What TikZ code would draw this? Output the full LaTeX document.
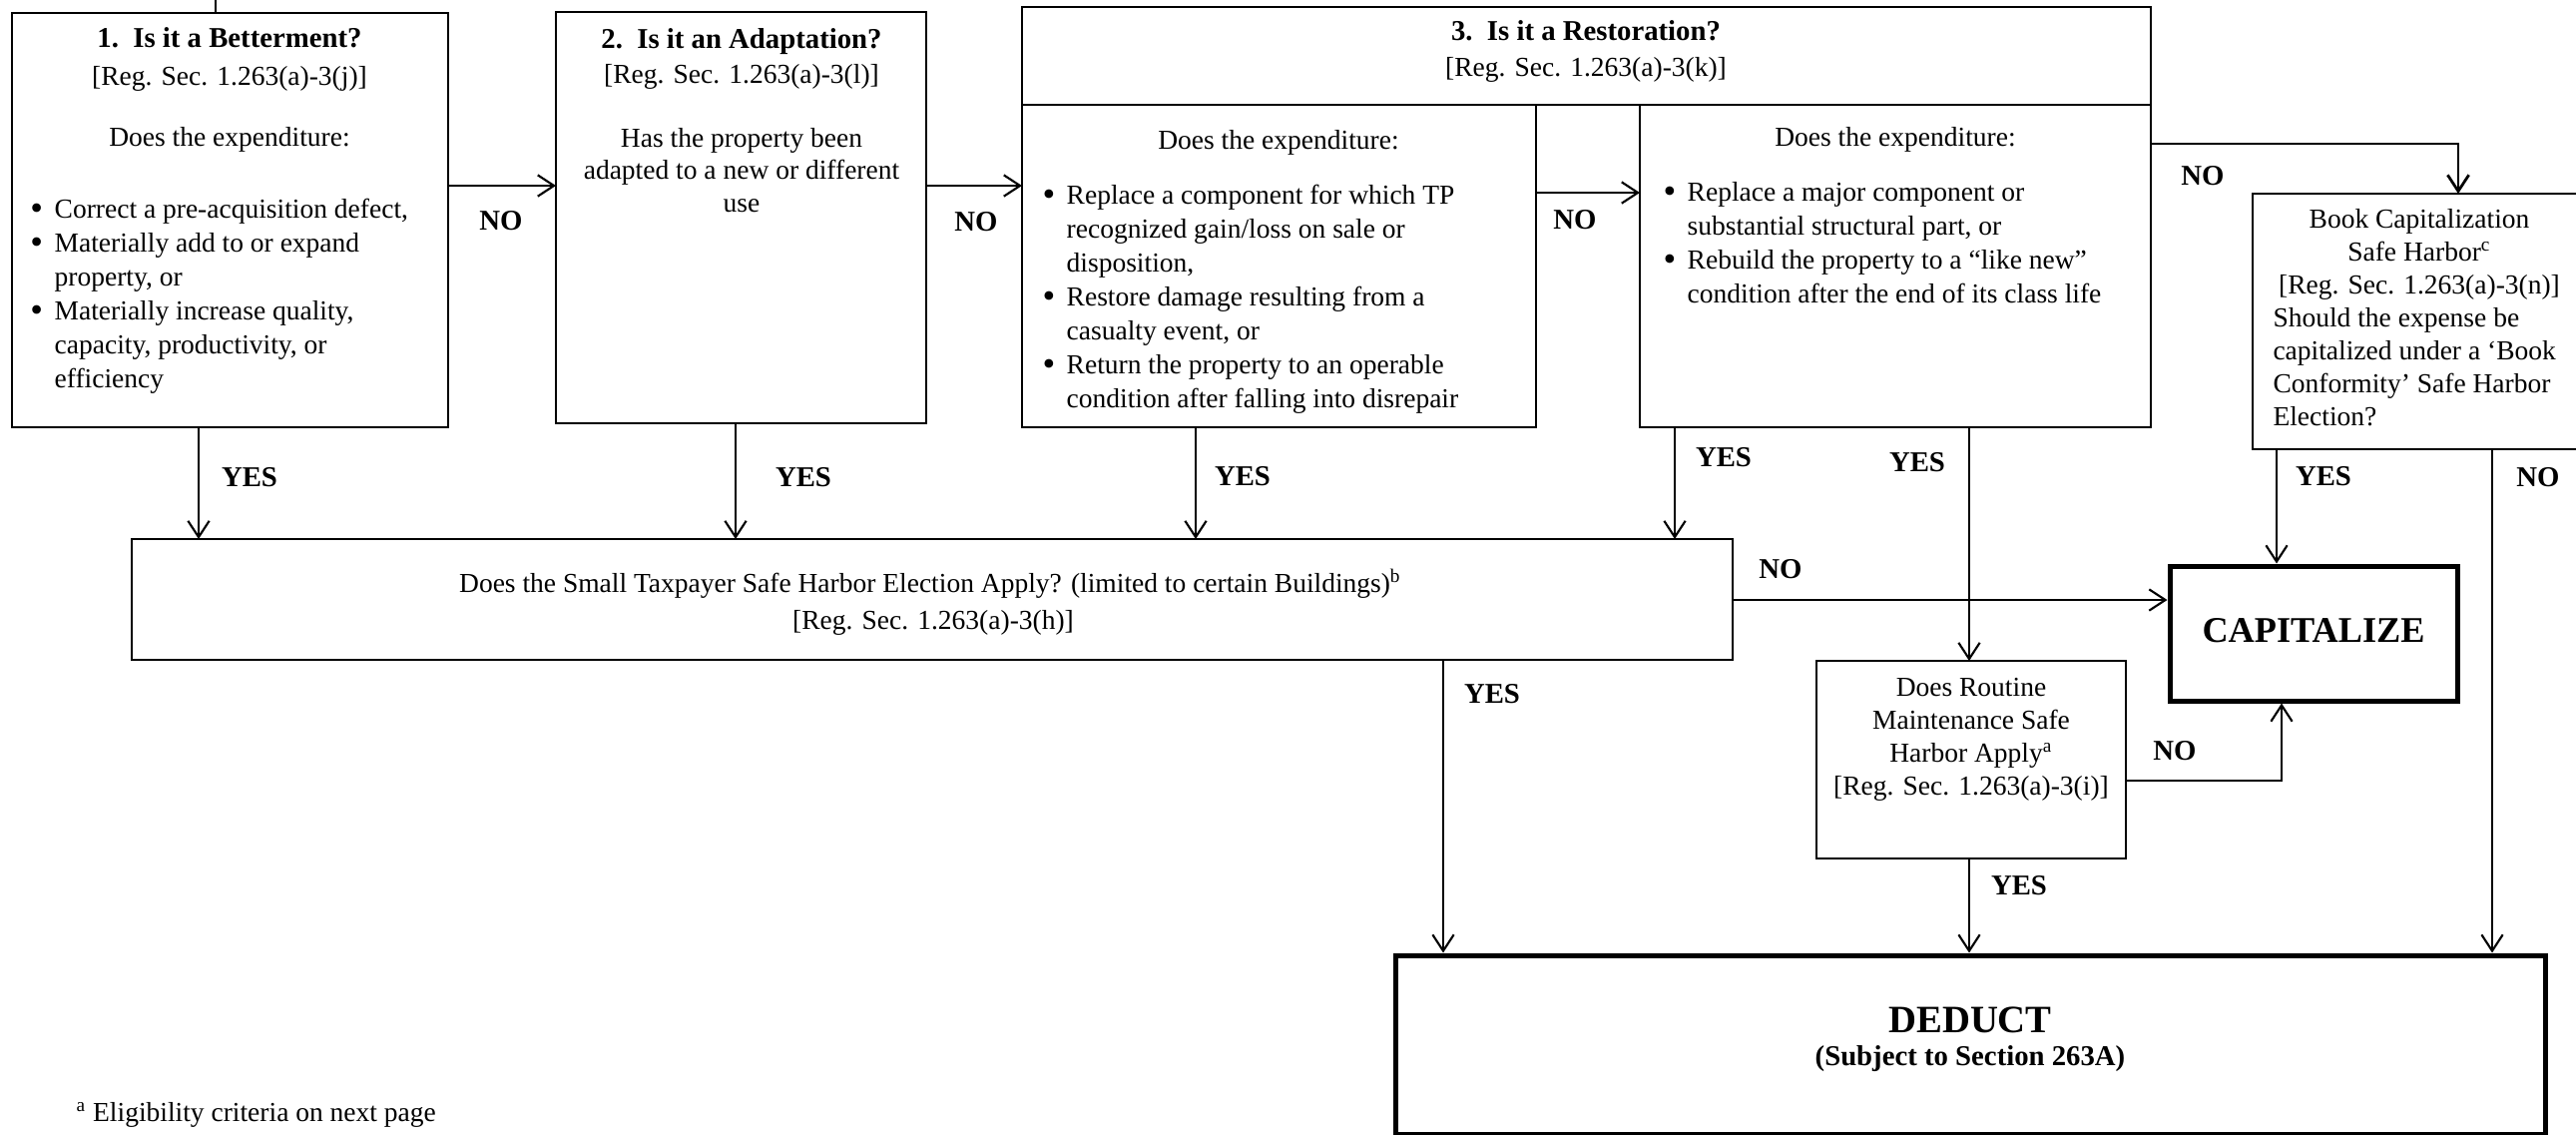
\documentclass[tikz,border=0pt]{standalone}
\usepackage{fontspec}
\setmainfont{Liberation Serif}
\usetikzlibrary{arrows.meta}
\newcommand\mytabc[1]{\begin{tabular}[t]{@{}c@{}}#1\end{tabular}}
\newcommand\mytabl[1]{\begin{tabular}[t]{@{}l@{}}#1\end{tabular}}
\newcommand\mybul[1]{\begin{tabular}[t]{@{}l@{\hspace{4.6pt}}l@{}}#1\end{tabular}}
\newcommand\bu{\raisebox{-0.9pt}{\fontsize{14.5}{0}\selectfont\textbullet}}
\tikzset{
  box/.style={draw, line width=0.8pt, inner sep=0pt, outer sep=0pt},
  thickbox/.style={draw, line width=2pt, inner sep=0pt, outer sep=1pt},
  arr/.style={line width=0.85pt, -{Straight Barb[length=6.5pt,width=8.5pt]}},
  lbl/.style={font=\fontsize{11.5}{13}\selectfont\bfseries, inner sep=0pt},
  ttl/.style={font=\fontsize{11.5}{14}\selectfont\bfseries, inner sep=0pt, anchor=base},
  txt/.style={font=\fontsize{11}{13.6}\selectfont, inner sep=0pt, anchor=base},
  txtw/.style={font=\fontsize{11}{13.6}\selectfont, inner sep=0pt, anchor=base west},
}
\begin{document}
\begin{tikzpicture}[x=0.4pt, y=-0.4pt]
\useasboundingbox (0,0) rectangle (2581,1136);
\fill[white] (0,0) rectangle (2581,1136);
\clip (0,0) rectangle (2581,1136);

% boxes
\node[box, minimum width=174.8pt, minimum height=166pt] (b1) at (230.5,220.5) {};
\node[box, minimum width=148.4pt, minimum height=164.8pt] (b2) at (742.5,218) {};
\node[box, minimum width=452.4pt, minimum height=39.2pt] (b3h) at (1589.5,56) {};
\node[box, minimum width=206pt, minimum height=129.2pt] (b3a) at (1281.5,266.5) {};
\node[box, minimum width=204.8pt, minimum height=129.2pt] (b3b) at (1899,266.5) {};
\node[box, minimum width=134pt, minimum height=102.4pt] (bc) at (2424.5,322) {};
\node[box, minimum width=641.6pt, minimum height=48.4pt] (st) at (934,600.5) {};
\node[thickbox, minimum width=115.2pt, minimum height=54pt] (cap) at (2318,634.5) {};
\node[box, minimum width=124pt, minimum height=79.2pt] (rm) at (1975,761) {};
\node[thickbox, minimum width=460.8pt, minimum height=71.6pt] (ded) at (1974,1046.5) {};

% box 1
\node[ttl] (t1a) at (230,47) {1.\ \ Is it a Betterment?};
\node[txt] (t1b) at (230,85) {[Reg. Sec. 1.263(a)-3(j)]};
\node[txt] (t1c) at (230,146) {Does the expenditure:};
\node[txtw] (t1d) at (30,218) {\mybul{\bu & Correct a pre-acquisition defect,\\
 \bu & Materially add to or expand\\
 & property, or\\
 \bu & Materially increase quality,\\
 & capacity, productivity, or\\
 & efficiency}};

% box 2
\node[ttl] (t2a) at (743,48) {2.\ \ Is it an Adaptation?};
\node[txt] (t2b) at (743,83) {[Reg. Sec. 1.263(a)-3(l)]};
\node[txt, font=\fontsize{11}{13.1}\selectfont] (t2c) at (743,147) {\mytabc{Has the property been\\adapted to a new or different\\use}};

% box 3
\node[ttl] (t3a) at (1589,40) {3.\ \ Is it a Restoration?};
\node[txt] (t3b) at (1589,76) {[Reg. Sec. 1.263(a)-3(k)]};
\node[txt] (t3c) at (1281,149) {Does the expenditure:};
\node[txtw] (t3d) at (1044,204) {\mybul{\bu & Replace a component for which TP\\
 & recognized gain/loss on sale or\\
 & disposition,\\
 \bu & Restore damage resulting from a\\
 & casualty event, or\\
 \bu & Return the property to an operable\\
 & condition after falling into disrepair}};
\node[txt] (t3e) at (1899,146) {Does the expenditure:};
\node[txtw] (t3f) at (1666,201) {\mybul{\bu & Replace a major component or\\
 & substantial structural part, or\\
 \bu & Rebuild the property to a “like new”\\
 & condition after the end of its class life}};

% book capitalization
\node[txt, font=\fontsize{11}{13.3}\selectfont] (tbc1) at (2424,228) {\mytabc{Book Capitalization\\Safe Harbor\textsuperscript{c}\\{[Reg. Sec. 1.263(a)-3(n)]}}};
\node[txtw, font=\fontsize{11}{13.3}\selectfont] (tbc2) at (2277,327) {\mytabl{Should the expense be\\capitalized under a ‘Book\\Conformity’ Safe Harbor\\Election?}};

% small taxpayer
\node[txt] (tst1) at (932,593) {Does the Small Taxpayer Safe Harbor Election Apply? (limited to certain Buildings)\textsuperscript{b}};
\node[txt] (tst2) at (935,630) {[Reg. Sec. 1.263(a)-3(h)]};

% routine maintenance
\node[txt, font=\fontsize{11}{13.2}\selectfont] (trm) at (1975,697) {\mytabc{Does Routine\\Maintenance Safe\\Harbor Apply\textsuperscript{a}\\{[Reg. Sec. 1.263(a)-3(i)]}}};

% outcomes
\node[font=\fontsize{14.5}{17}\selectfont\bfseries, inner sep=0pt] (tcap) at (2318,632) {CAPITALIZE};
\node[font=\fontsize{15.5}{18}\selectfont\bfseries, inner sep=0pt] (tded) at (1974,1022) {DEDUCT};
\node[font=\fontsize{11.5}{13}\selectfont\bfseries, inner sep=0pt] (tded2) at (1974,1061) {(Subject to Section 263A)};

% footnote
\node[txtw] (fn) at (76,1123) {\textsuperscript{a}\ Eligibility criteria on next page};

% helper coordinates
\coordinate (topin) at (216,0);
\coordinate (r1) at (0,186);
\coordinate (r2) at (0,193);
\coordinate (r3) at (0,144);
\coordinate (r4) at (0,601);
\coordinate (r5) at (0,782);
\coordinate (c1) at (199,0);
\coordinate (c2) at (737,0);
\coordinate (c3) at (1198,0);
\coordinate (c4) at (1678,0);
\coordinate (c5) at (1973,0);
\coordinate (c6) at (2463,0);
\coordinate (c7) at (2281,0);
\coordinate (c8) at (2497,0);
\coordinate (c9) at (1446,0);
\coordinate (c10) at (2286,0);

% connectors
\draw[line width=0.85pt] (topin) -- (topin |- b1.north);
\draw[arr] (b1.east |- r1) -- (b2.west |- r1);
\draw[arr] (b2.east |- r1) -- (b3a.west |- r1);
\draw[arr] (b3a.east |- r2) -- (b3b.west |- r2);
\draw[arr, line width=1.1pt] (b3b.east |- r3) -| (c6 |- bc.north);
\draw[arr] (c1 |- b1.south) -- (c1 |- st.north);
\draw[arr] (c2 |- b2.south) -- (c2 |- st.north);
\draw[arr] (c3 |- b3a.south) -- (c3 |- st.north);
\draw[arr] (c4 |- b3b.south) -- (c4 |- st.north);
\draw[arr] (c5 |- b3b.south) -- (c5 |- rm.north);
\draw[arr] (st.east |- r4) -- (cap.west |- r4);
\draw[arr] (c7 |- bc.south) -- (c7 |- cap.north);
\draw[arr] (c8 |- bc.south) -- (c8 |- ded.north);
\draw[arr] (c9 |- st.south) -- (c9 |- ded.north);
\draw[arr] (rm.east |- r5) -| (c10 |- cap.south);
\draw[arr] (c5 |- rm.south) -- (c5 |- ded.north);

% labels
\node[lbl] (n1) at (502,221) {NO};
\node[lbl] (n2) at (978,222) {NO};
\node[lbl] (n3) at (1578,220) {NO};
\node[lbl] (n4) at (2207,176) {NO};
\node[lbl] (y1) at (250,478) {YES};
\node[lbl] (y2) at (805,478) {YES};
\node[lbl] (y3) at (1245,477) {YES};
\node[lbl] (y4) at (1727,458) {YES};
\node[lbl] (y5) at (1921,463) {YES};
\node[lbl] (n5) at (1784,570) {NO};
\node[lbl] (y6) at (2328,477) {YES};
\node[lbl] (n6) at (2543,478) {NO};
\node[lbl] (y7) at (1495,695) {YES};
\node[lbl] (n7) at (2179,752) {NO};
\node[lbl] (y8) at (2023,887) {YES};
\end{tikzpicture}
\end{document}
